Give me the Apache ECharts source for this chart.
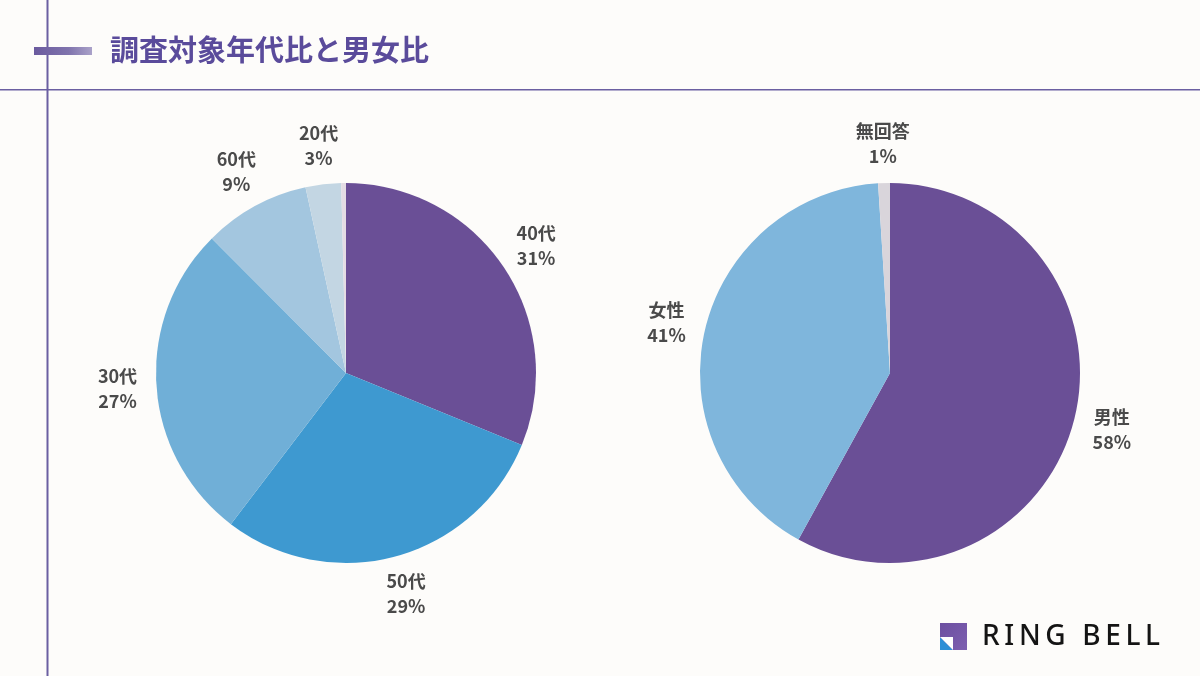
<!DOCTYPE html>
<html>
<head>
<meta charset="utf-8">
<script src="https://cdn.jsdelivr.net/npm/echarts@6/dist/echarts.min.js"></script>
<style>
    html, body { margin: 0; padding: 0; background: #fdfcfa; }
    #main { width: 1200px; height: 676px; }
</style>
</head>
<body>
<div id="main"></div>
<script>
    // 年代比
    var ageNames = ['40代', '50代', '30代', '60代', '20代', '無回答'];
    var ageValues = [31, 29, 27, 9, 3, 0.4];
    var ageColors = ['#6a4f96', '#3e99d0', '#70afd7', '#a3c6df', '#c3d6e3', '#e4dce4'];
    var ageShowLabel = [true, true, true, true, true, false];

    // 男女比
    var sexNames = ['男性', '女性', '無回答'];
    var sexValues = [58, 41, 1];
    var sexColors = ['#6a4f96', '#7fb6dc', '#d9d5db'];
    var sexShowLabel = [true, true, true];

    var labelFont = '"Noto Sans CJK JP", "Noto Sans", sans-serif';

    function pieData(names, values, colors) {
        var arr = [];
        for (var i = 0; i < names.length; i++) {
            arr.push({ name: names[i], value: values[i], itemStyle: { color: colors[i] } });
        }
        return arr;
    }

    function labelData(names, values, show) {
        var arr = [];
        for (var i = 0; i < names.length; i++) {
            arr.push({
                name: names[i],
                value: values[i],
                label: { show: show[i] }
            });
        }
        return arr;
    }

    function pieSeries(center, names, values, colors) {
        return {
            type: 'pie',
            center: center,
            radius: 190,
            startAngle: 90,
            clockwise: true,
            silent: true,
            label: { show: false },
            labelLine: { show: false },
            data: pieData(names, values, colors)
        };
    }

    // 透明なリングでラベルを外側に置く
    function labelSeries(center, names, values, show) {
        return {
            type: 'pie',
            center: center,
            radius: [196, 256],
            startAngle: 90,
            clockwise: true,
            silent: true,
            itemStyle: { color: 'transparent' },
            label: {
                show: true,
                position: 'inside',
                formatter: '{b}\n{c}%',
                color: '#4a4a4a',
                fontSize: 18,
                fontWeight: 'bold',
                lineHeight: 25,
                fontFamily: labelFont
            },
            labelLine: { show: false },
            data: labelData(names, values, show)
        };
    }

    var myChart = echarts.init(document.getElementById('main'));

    var option = {
        backgroundColor: '#fdfcfa',
        animation: false,
        graphic: [
            { type: 'rect', shape: { x: 46.5, y: 0, width: 2, height: 676 }, style: { fill: '#6b5fa1' } },
            { type: 'rect', shape: { x: 0, y: 89, width: 1200, height: 1.6 }, style: { fill: '#6b5fa1' } },
            {
                type: 'rect',
                shape: { x: 34, y: 47, width: 58, height: 8 },
                style: {
                    fill: new echarts.graphic.LinearGradient(0, 0, 1, 0, [
                        { offset: 0, color: '#6a5a9e' },
                        { offset: 0.6, color: '#8074ad' },
                        { offset: 1, color: '#aaa2c9' }
                    ])
                }
            },
            {
                type: 'text',
                x: 110,
                y: 50,
                style: {
                    text: '調査対象年代比と男女比',
                    fill: '#5a4b9b',
                    font: 'bold 29px "Noto Sans CJK JP", sans-serif',
                    verticalAlign: 'middle'
                }
            },
            // ロゴ
            {
                type: 'rect',
                shape: { x: 940, y: 623, width: 27, height: 27 },
                style: {
                    fill: new echarts.graphic.LinearGradient(0, 0, 1, 1, [
                        { offset: 0, color: '#6c4fa0' },
                        { offset: 1, color: '#7d5fb0' }
                    ])
                }
            },
            { type: 'polygon', shape: { points: [[940, 637], [940, 650], [953, 650]] }, style: { fill: '#2f8fd6' } },
            { type: 'polygon', shape: { points: [[940, 637], [953, 650], [953, 637]] }, style: { fill: '#ffffff' } },
            {
                type: 'text',
                x: 982,
                y: 637,
                style: {
                    text: 'R\u2009I\u2009N\u2009G\u2009 \u2009B\u2009E\u2009L\u2009L',
                    fill: '#141414',
                    font: '500 28px "Noto Sans", sans-serif',
                    verticalAlign: 'middle'
                }
            }
        ],
        series: [
            pieSeries([346, 373], ageNames, ageValues, ageColors),
            labelSeries([346, 373], ageNames, ageValues, ageShowLabel),
            pieSeries([890, 373], sexNames, sexValues, sexColors),
            labelSeries([890, 373], sexNames, sexValues, sexShowLabel)
        ]
    };

    myChart.setOption(option);
</script>
</body>
</html>
